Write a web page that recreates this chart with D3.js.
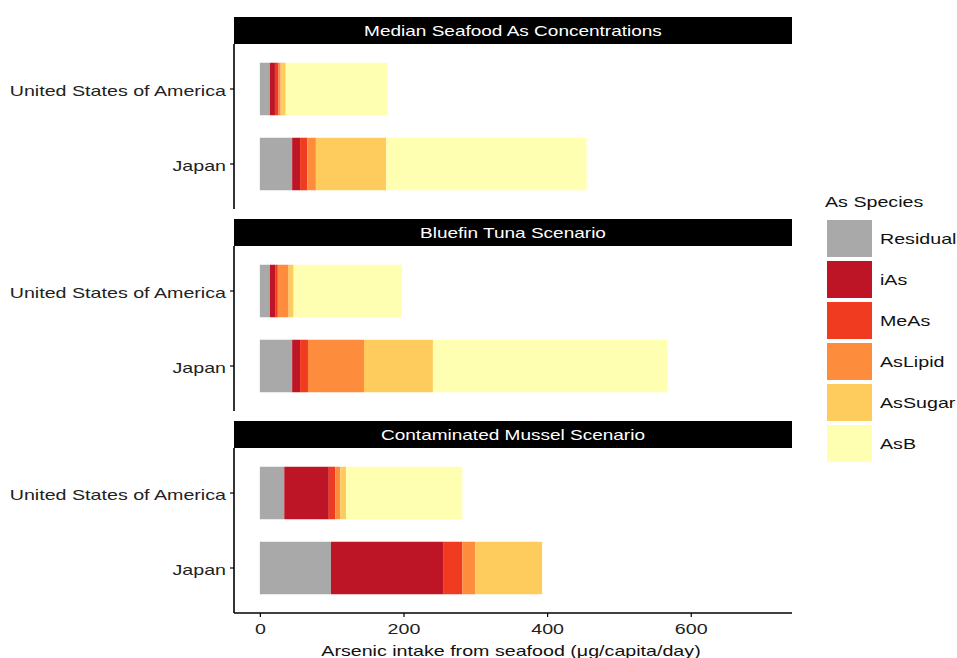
<!DOCTYPE html>
<html><head><meta charset="utf-8">
<script src="https://cdn.jsdelivr.net/npm/d3@7"></script>
<style>body{margin:0;background:#fff;} text{font-family:"Liberation Sans",Arial,sans-serif;}</style>
</head><body>
<svg id="c" width="957" height="658"></svg>
<script>
const panels = ["Median Seafood As Concentrations","Bluefin Tuna Scenario","Contaminated Mussel Scenario"];
const countries = ["United States of America","Japan"];
const species = ["Residual","iAs","MeAs","AsLipid","AsSugar","AsB"];
const speciesColors = ["#a9a9a9","#bd1526","#f03b20","#fd8d3c","#fecc5c","#ffffb2"];
// values ordered: [panel1 USA, panel1 Japan, panel2 USA, panel2 Japan, panel3 USA, panel3 Japan]
const residual = [14, 45, 14, 45, 34, 99];
const iAs      = [7, 11, 8, 11, 62, 157];
const meAs     = [5, 10, 3, 11, 9, 26];
const asLipid  = [3, 12, 15, 78, 7, 18];
const asSugar  = [7, 98, 7, 96, 8, 93];
const asB      = [142, 279, 151, 326, 162, 0];
const xTicks = [0, 200, 400, 600];

const seriesVals = {Residual: residual, iAs: iAs, MeAs: meAs, AsLipid: asLipid, AsSugar: asSugar, AsB: asB};
const rows = [];
panels.forEach((p, pi) => countries.forEach((c, ci) => {
  const r = {panel: p, country: c};
  species.forEach(s => r[s] = seriesVals[s][pi*2+ci]);
  rows.push(r);
}));
const stacked = d3.stack().keys(species)(rows);
const color = d3.scaleOrdinal().domain(species).range(speciesColors);

const SX = 1.31;
function stretch(sel) {
  sel.each(function() {
    const w = this.getComputedTextLength();
    d3.select(this).attr("textLength", w * SX).attr("lengthAdjust", "spacingAndGlyphs");
  });
}

const svg = d3.select("#c");
const L = 234, R = 792;
const x = d3.scaleLinear().domain([-36, 741]).range([L, R]);
const stripH = 27, panelH = 165, gap = 10, top0 = 17;

panels.forEach((p, pi) => {
  const st = top0 + pi*(stripH + panelH + gap);
  const pt = st + stripH;
  const g = svg.append("g");
  g.append("rect").attr("x", L).attr("y", st).attr("width", R-L).attr("height", stripH).attr("fill", "#000");
  g.append("text").attr("x", (L+R)/2).attr("y", st + stripH/2 + 5).attr("text-anchor", "middle")
    .attr("fill", "#fff").style("font-size", "14.5px").text(p).call(stretch);
  const y = d3.scaleBand().domain(countries).range([pt, pt+panelH]).paddingInner(0.3).paddingOuter(0.25);
  stacked.forEach(layer => {
    g.selectAll(null).data(layer.filter(d => d.data.panel === p)).enter().append("rect")
      .attr("x", d => x(d[0])).attr("width", d => Math.max(0, x(d[1]) - x(d[0])))
      .attr("y", d => y(d.data.country)).attr("height", y.bandwidth())
      .attr("fill", color(layer.key));
  });
  const ya = g.append("g").attr("transform", `translate(${L},0)`)
    .call(d3.axisLeft(y).tickSize(4).tickPadding(4));
  ya.select(".domain").attr("stroke", "#000").attr("stroke-width", 1.6).attr("d", `M0,${pt}V${pt+panelH}`);
  ya.selectAll(".tick line").attr("stroke", "#000").attr("stroke-width", 1.2);
  ya.selectAll("text").style("font-size", "15px").attr("fill", "#222").attr("dy", "0.45em").call(stretch);
  if (pi === panels.length - 1) {
    const xa = g.append("g").attr("transform", `translate(0,${pt+panelH})`)
      .call(d3.axisBottom(x).tickValues(xTicks).tickSize(4).tickPadding(6));
    xa.select(".domain").attr("stroke", "#000").attr("stroke-width", 1.6).attr("d", `M${L},0H${R}`);
    xa.selectAll(".tick line").attr("stroke", "#000").attr("stroke-width", 1.2);
    xa.selectAll("text").style("font-size", "15px").attr("fill", "#222").call(stretch);
    svg.append("text").attr("x", 511).attr("y", 656).attr("text-anchor", "middle")
      .style("font-size", "15px").attr("fill", "#111").text("Arsenic intake from seafood (μg/capita/day)").call(stretch);
  }
});

const lg = svg.append("g");
lg.append("text").attr("x", 825).attr("y", 207).style("font-size", "15px").attr("fill", "#111").text("As Species").call(stretch);
species.forEach((s, i) => {
  const yy = 220 + i*41;
  lg.append("rect").attr("x", 827).attr("y", yy).attr("width", 45).attr("height", 37).attr("fill", color(s));
  lg.append("text").attr("x", 880).attr("y", yy + 18.5 + 5).style("font-size", "15px").attr("fill", "#111").text(s).call(stretch);
});
</script>
</body></html>
